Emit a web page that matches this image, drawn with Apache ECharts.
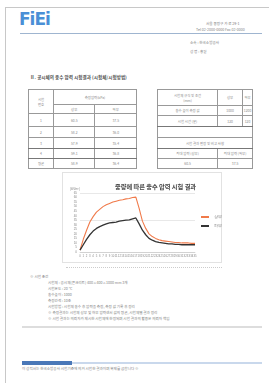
<!DOCTYPE html>
<html>
<head>
<meta charset="utf-8">
<script src="https://cdn.jsdelivr.net/npm/echarts@6/dist/echarts.min.js"></script>
<style>
html, body { margin: 0; padding: 0; background: #fff; }
body { width: 269px; height: 383px; position: relative; overflow: hidden;
  font-family: "Noto Sans CJK KR", "Noto Sans", sans-serif; color: #808080; }
.a { position: absolute; white-space: nowrap; line-height: 1; }
.t { font-size: 3.6px; }
.page { position: absolute; left: 5px; top: 7px; width: 270px; height: 390px; border: 1px solid #c8c8c8; box-sizing: border-box; }
table { position: absolute; border-collapse: collapse; font-size: 3.4px; color: #8a8a8a; }
td { border: 0.7px solid #999; text-align: center; padding: 0; }
td.hv { border-bottom: 1.2px solid #777; }
#chart { position: absolute; left: 60px; top: 170px; width: 165px; height: 95px; }
.frame { position: absolute; left: 62px; top: 172px; width: 160px; height: 91px; border: 0.6px solid #e2e2e2; box-sizing: border-box; }
</style>
</head>
<body>
<div class="page"></div>

<div class="a" style="left:19px;top:11px;font-size:17px;font-weight:bold;color:#4a8fd6;letter-spacing:-1px;font-family:'DejaVu Sans',sans-serif;">FiEi</div>
<div class="a t" style="left:206px;top:22px;">서울 중랑구 가 로 29-1</div>
<div class="a t" style="left:196px;top:28px;">Tel 02-2000-0000 Fax 02-0000</div>
<div style="position:absolute;left:20px;top:33px;width:242px;height:1px;background:#9fb5d0;"></div>
<div class="a t" style="left:190px;top:41px;">소속 : 한국소방공사</div>
<div class="a t" style="left:190px;top:50px;">성 명 : 홍길</div>

<div class="a" style="left:30px;top:75px;font-size:4.6px;font-weight:bold;color:#555;">Ⅱ. 공시체의 충수 압력 시험결과 (시험체/시험방법)</div>

<table style="left:28px;top:89px;width:109px;height:79px;">
<tr style="height:15px"><td rowspan="2" style="width:24px">시험<br>번호</td><td colspan="2">측정압력(kPa)</td></tr>
<tr style="height:9px"><td>상부</td><td>하부</td></tr>
<tr style="height:13px"><td>1</td><td>60.5</td><td>37.5</td></tr>
<tr style="height:11px"><td>2</td><td>58.2</td><td>36.0</td></tr>
<tr style="height:11px"><td class="hv">3</td><td class="hv">57.9</td><td class="hv">35.4</td></tr>
<tr style="height:10px"><td class="hv">4</td><td class="hv">59.1</td><td class="hv">36.8</td></tr>
<tr style="height:10px"><td>평균</td><td>58.9</td><td>36.4</td></tr>
</table>

<table style="left:157px;top:89px;width:96px;height:79px;">
<tr style="height:16px"><td colspan="2" style="width:51px">시험체 규격 및 조건<br>(mm)</td><td style="width:24px">상부</td><td>하부</td></tr>
<tr style="height:10px"><td colspan="2">충수 높이 측정 값</td><td>1000</td><td>1200</td></tr>
<tr style="height:11px"><td colspan="2" class="hv">시험 시간 (분)</td><td class="hv">120</td><td class="hv">120</td></tr>
<tr style="height:11px"><td colspan="4"></td></tr>
<tr style="height:11px"><td colspan="4" class="hv">시험 결과 판정 및 비고 사항</td></tr>
<tr style="height:10px"><td>최대 압력 (상부)</td><td colspan="3">최대 압력 (하부)</td></tr>
<tr style="height:10px"><td>60.5</td><td colspan="3">37.5</td></tr>
</table>

<div class="frame"></div>
<div id="chart"></div>
<div style="position:absolute;left:66px;top:267px;width:156px;border-top:0.6px dotted #ccc;"></div>

<div class="a t" style="left:30px;top:275px;">※ 시험 조건</div>
<div class="a t" style="left:48px;top:281px;">시험체 : 공시체(콘크리트) 400×400×1000 mm 3개</div>
<div class="a t" style="left:48px;top:287px;">시험온도 : 20 ℃</div>
<div class="a t" style="left:48px;top:293px;">충수높이 : 1000</div>
<div class="a t" style="left:48px;top:299px;">측정간격 : 10초</div>
<div class="a t" style="left:48px;top:305px;">시험방법 : 시험체 충수 후 압력을 측정, 측정 값 기록 후 정리</div>
<div class="a t" style="left:48px;top:311px;">※ 측정결과는 시험체 상부 및 하부 압력센서 값의 평균, 시험체별 결과 정리</div>
<div class="a t" style="left:48px;top:317px;">※ 시험 결과는 의뢰자가 제시한 시험체에 한정되며 시험 결과의 활용은 의뢰자 책임</div>

<div style="position:absolute;left:22px;top:326px;width:240px;height:1.5px;background:#ddd;"></div>

<div style="position:absolute;left:22px;top:361px;width:50px;height:4px;background:#4a78b8;"></div>
<div style="position:absolute;left:72px;top:362px;width:190px;height:2px;background:#c9d8ec;"></div>
<div class="a t" style="left:22px;top:367px;">이 성적서는 한국소방공사 시험기준에 의거 시험한 결과이며 복제를 금합니다 ※</div>

<script>
// 시간 (x축)
const times = ['0','1','2','3','4','5','6','7','8','9','10','11','12','13','14','15','16','17',
  '18','19','20','21','22','23','24','25','26','27','28','29','30','31','32','33','34','35'];
// 상부 압력
const upper = [2, 14, 24, 33, 39, 44, 47, 50, 52, 53.5, 55, 56, 57, 57.5, 58.5, 59, 60, 60.5,
  48, 34, 26, 20, 17, 15, 13.5, 12.5, 12, 11.5, 11, 10.5, 10.5, 10, 10, 10, 9.5, 9.5];
// 하부 압력
const lower = [2, 8, 14, 19, 23, 26, 28, 29.5, 31, 32, 32.5, 33, 34, 34.5, 35, 35.5, 36.5, 37.5,
  31, 24, 19, 15, 13, 11.5, 10.5, 10, 9.5, 9, 9, 8.5, 8.5, 8, 8, 8, 8, 8];
const names = ['상부', '하부'];

const chart = echarts.init(document.getElementById('chart'));
chart.setOption({
  animation: false,
  title: {
    text: '중량에 따른 충수 압력 시험 결과',
    left: 50, top: 9,
    textStyle: { fontSize: 6.2, fontWeight: 'bold', color: '#444', fontFamily: 'Noto Sans CJK KR' }
  },
  legend: {
    data: names, orient: 'vertical', left: 136, top: 40, itemGap: 5,
    itemWidth: 8, itemHeight: 2, icon: 'rect',
    textStyle: { fontSize: 3.5, color: '#777' }
  },
  grid: { left: 20, right: 30, top: 23, bottom: 13 },
  xAxis: {
    type: 'category', data: times, boundaryGap: false,
    axisLine: { lineStyle: { color: '#bbb', width: 0.5 } },
    axisTick: { show: false },
    axisLabel: { fontSize: 2.8, color: '#888', interval: 0, margin: 3 }
  },
  yAxis: [{
    type: 'value', min: 0, max: 65, interval: 5,
    name: '(kN/m²)', nameGap: 2, nameTextStyle: { fontSize: 3, color: '#888', align: 'right' },
    axisLine: { show: false }, axisTick: { show: false },
    axisLabel: { fontSize: 3, color: '#888', margin: 3 },
    splitLine: { show: false }
  }, {
    type: 'value', min: 0, max: 65, interval: 35, position: 'left',
    axisLabel: { show: false }, axisLine: { show: false }, axisTick: { show: false },
    splitLine: { lineStyle: { color: '#d8d8d8', width: 0.6 } }
  }],
  series: [{
    name: names[0], type: 'line', data: upper, symbol: 'none',
    lineStyle: { color: '#f07a4a', width: 1.1 }, itemStyle: { color: '#f07a4a' }
  }, {
    name: names[1], type: 'line', data: lower, symbol: 'none',
    lineStyle: { color: '#333', width: 1.3 }, itemStyle: { color: '#333' }
  }]
});
</script>
</body>
</html>
